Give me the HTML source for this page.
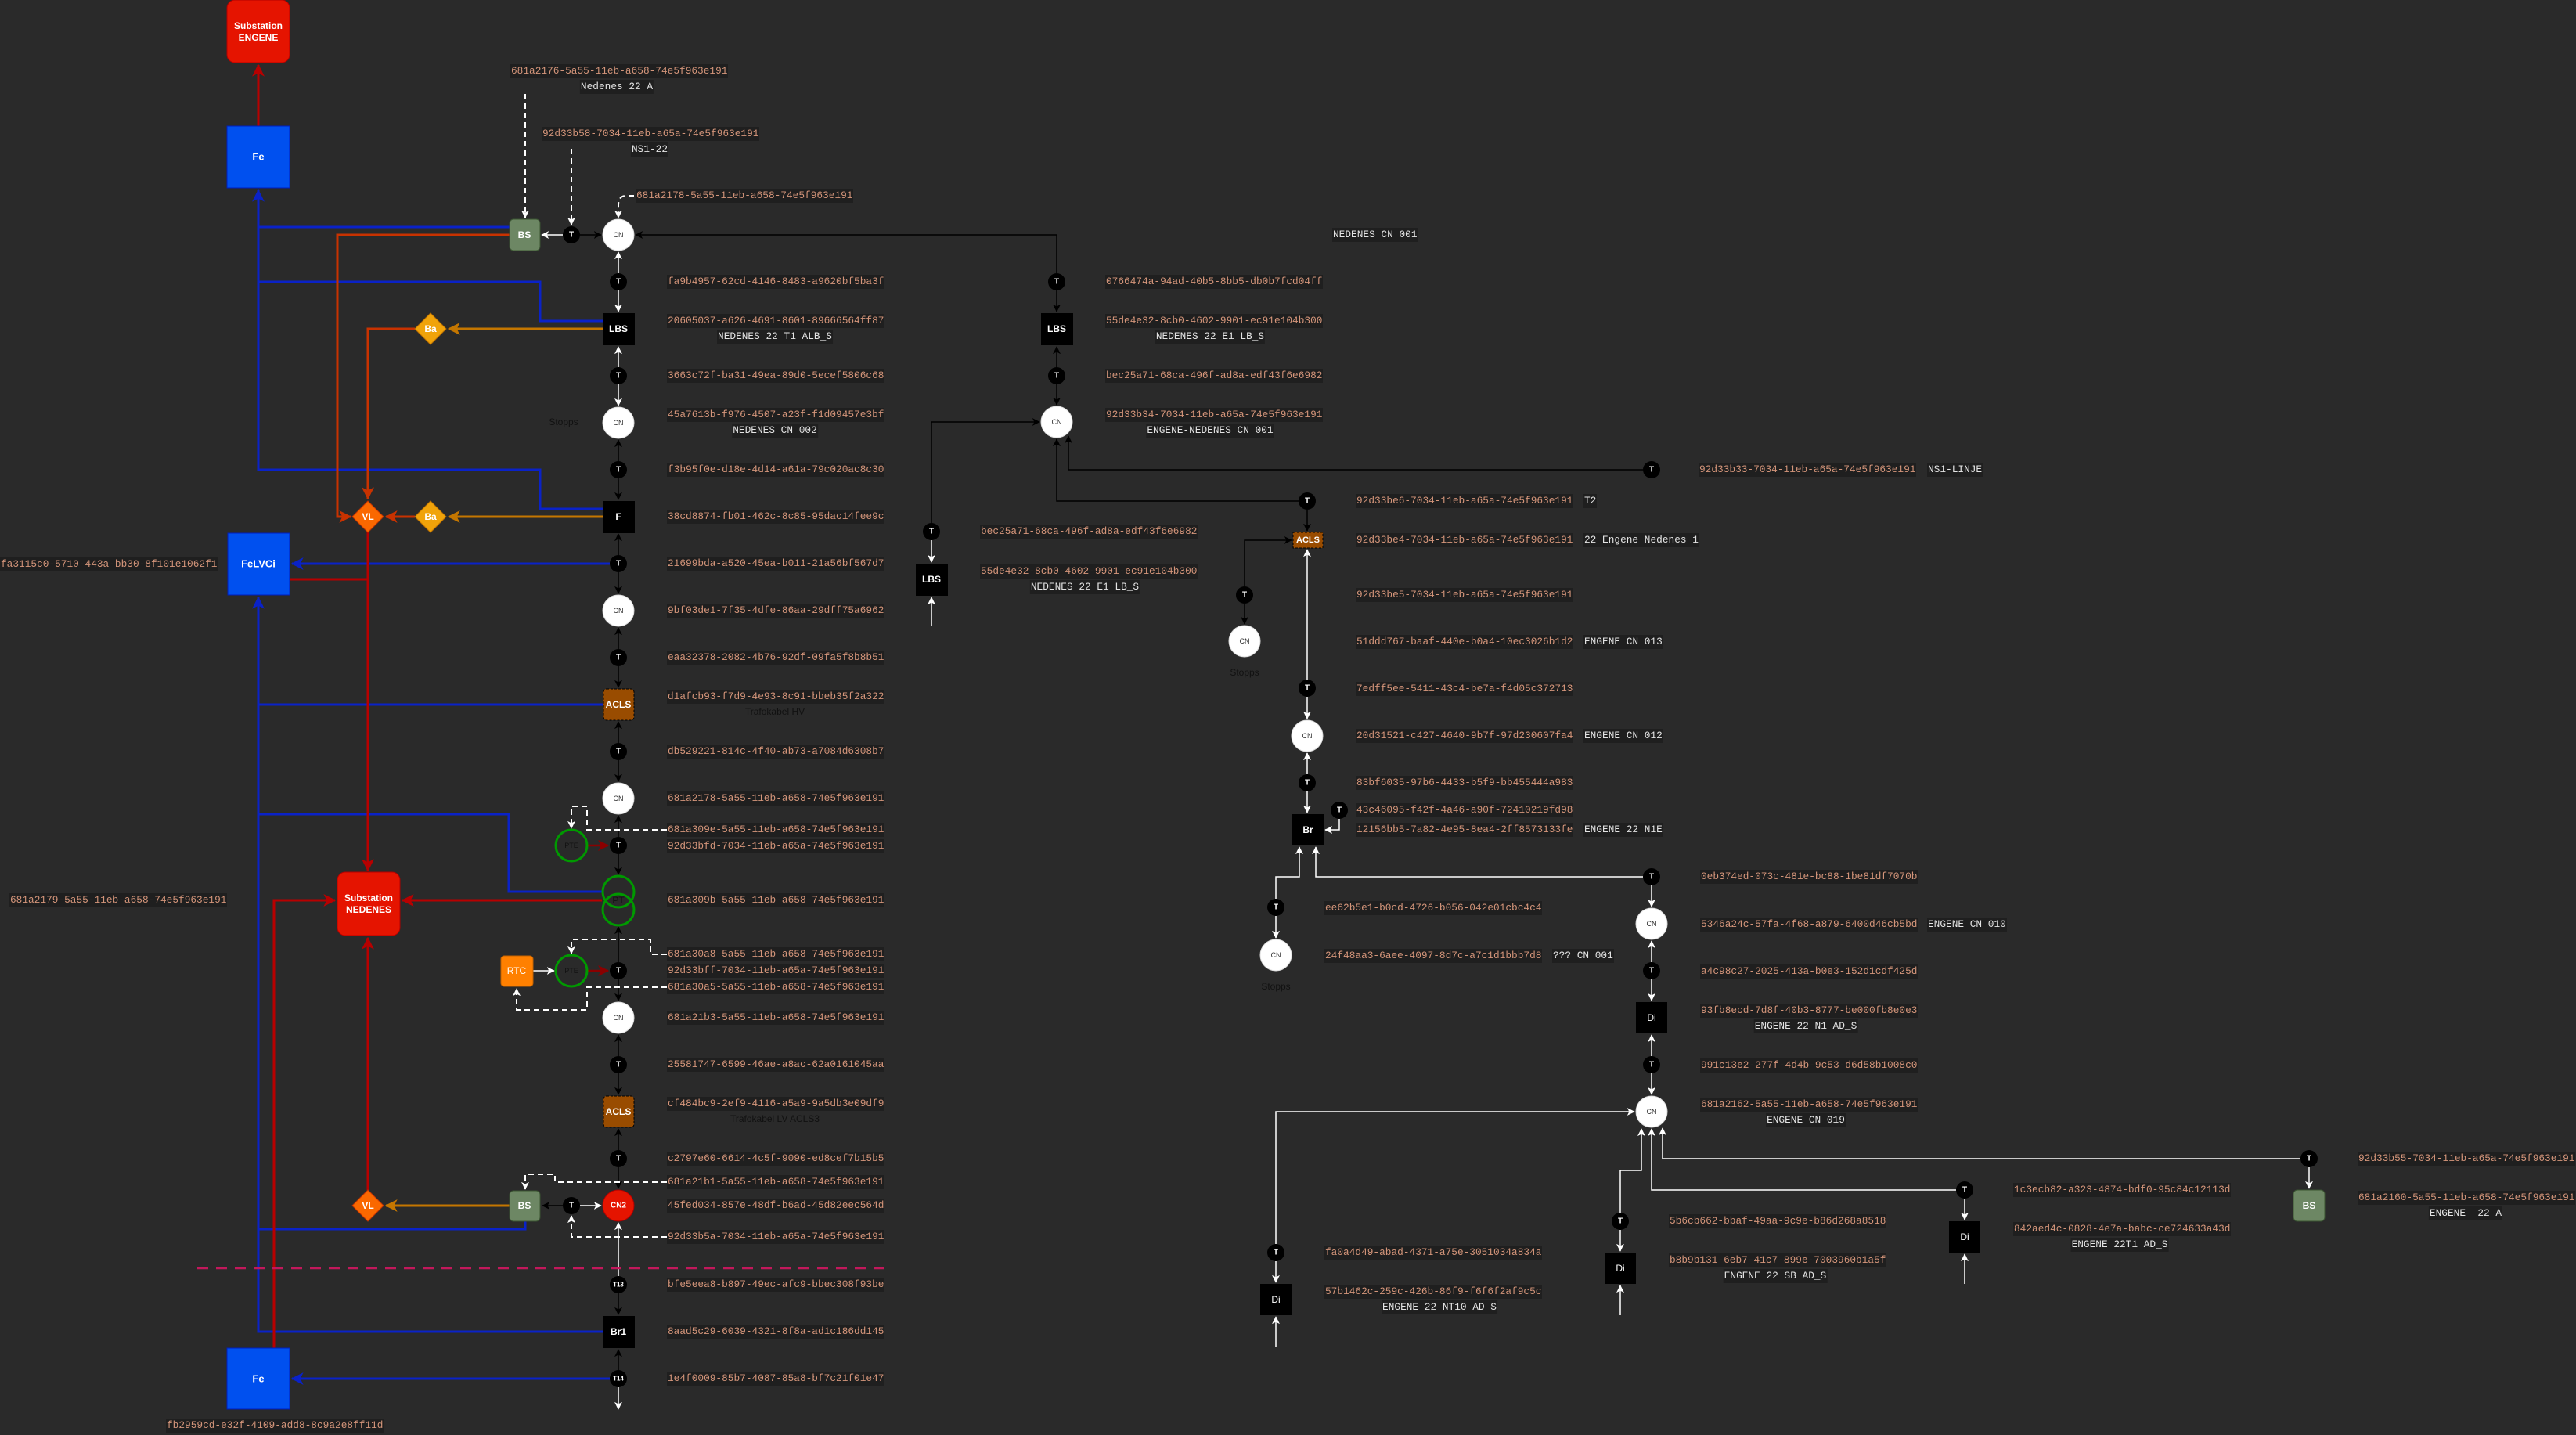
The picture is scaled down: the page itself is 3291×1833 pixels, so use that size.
<!DOCTYPE html>
<html><head><meta charset="utf-8"><style>
html,body{margin:0;padding:0;background:#2a2a2a;}
#w{position:relative;width:3291px;height:1833px;overflow:hidden;background:#2a2a2a;}
svg{position:absolute;left:0;top:0;}
.l{position:absolute;font-family:"Liberation Mono",monospace;font-size:12.8px;line-height:18px;height:18px;color:#d4957a;background:#1f1f1f;white-space:pre;padding:0 1px;}
.n{color:#e4e4e4;}
.c{transform:translateX(-50%);}
.d{position:absolute;font-family:"Liberation Sans",sans-serif;font-size:12px;color:#111;white-space:pre;transform:translateX(-50%);}
text{font-family:"Liberation Sans",sans-serif;text-anchor:middle;dominant-baseline:central;}
</style></head><body><div id="w">
<svg width="3291" height="1833" viewBox="0 0 3291 1833">
<defs>
<marker id="aK" viewBox="0 0 12 12" refX="11" refY="6" markerWidth="10" markerHeight="10" markerUnits="userSpaceOnUse" orient="auto"><path d="M0,0 L12,6 L0,12 L3,6z" fill="#000"/></marker>
<marker id="aW" viewBox="0 0 12 12" refX="11" refY="6" markerWidth="10" markerHeight="10" markerUnits="userSpaceOnUse" orient="auto"><path d="M0,0 L12,6 L0,12 L3,6z" fill="#fff"/></marker>
<marker id="aB" viewBox="0 0 12 12" refX="11" refY="6" markerWidth="16" markerHeight="16" markerUnits="userSpaceOnUse" orient="auto"><path d="M0,0 L12,6 L0,12 L3,6z" fill="#0a22c8"/></marker>
<marker id="aR" viewBox="0 0 12 12" refX="11" refY="6" markerWidth="16" markerHeight="16" markerUnits="userSpaceOnUse" orient="auto"><path d="M0,0 L12,6 L0,12 L3,6z" fill="#b80000"/></marker>
<marker id="aRO" viewBox="0 0 12 12" refX="11" refY="6" markerWidth="16" markerHeight="16" markerUnits="userSpaceOnUse" orient="auto"><path d="M0,0 L12,6 L0,12 L3,6z" fill="#c83200"/></marker>
<marker id="aO" viewBox="0 0 12 12" refX="11" refY="6" markerWidth="16" markerHeight="16" markerUnits="userSpaceOnUse" orient="auto"><path d="M0,0 L12,6 L0,12 L3,6z" fill="#c47600"/></marker>
<marker id="aD" viewBox="0 0 12 12" refX="11" refY="6" markerWidth="14" markerHeight="14" markerUnits="userSpaceOnUse" orient="auto"><path d="M0,0 L12,6 L0,12 L3,6z" fill="#8a0000"/></marker>
</defs>
<g fill="none">
<g stroke="#0a22c8" stroke-width="3">
<path d="M651,290 H330 V243" marker-end="url(#aB)"/>
<path d="M770,410 H690 V360 H330"/>
<path d="M770,650 H690 V600 H330 V290"/>
<path d="M779,720 H373" marker-end="url(#aB)"/>
<path d="M770,1701 H330 V763" marker-end="url(#aB)"/>
<path d="M771,900 H330"/>
<path d="M769,1139 H650 V1040 H330"/>
<path d="M671,1560 V1570 H330"/>
<path d="M779,1761 H373" marker-end="url(#aB)"/>
</g>
<g stroke="#b80000" stroke-width="3">
<path d="M330,161 V83" marker-end="url(#aR)"/>
<path d="M370,740 H470"/>
<path d="M470,680 V1112" marker-end="url(#aR)"/>
<path d="M769,1150 H514" marker-end="url(#aR)"/>
<path d="M350,1722 V1150 H428" marker-end="url(#aR)"/>
<path d="M470,1520 V1198" marker-end="url(#aR)"/>
</g>
<g stroke="#c83200" stroke-width="3">
<path d="M651,300 H431 V660 H448" marker-end="url(#aRO)"/>
<path d="M530,420 H470 V637" marker-end="url(#aRO)"/>
<path d="M530,660 H493" marker-end="url(#aRO)"/>
</g>
<g stroke="#c47600" stroke-width="3">
<path d="M770,420 H573" marker-end="url(#aO)"/>
<path d="M770,660 H573" marker-end="url(#aO)"/>
<path d="M651,1540 H493" marker-end="url(#aO)"/>
</g>
<g stroke="#8a0000" stroke-width="2.5">
<path d="M750,1080 H777" marker-end="url(#aD)"/>
<path d="M750,1240 H777" marker-end="url(#aD)"/>
</g>
<g stroke="#fff" stroke-width="1.5">
<path d="M790,349 V322" marker-end="url(#aW)"/>
<path d="M790,371 V398" marker-end="url(#aW)"/>
<path d="M790,469 V443" marker-end="url(#aW)"/>
<path d="M790,491 V518" marker-end="url(#aW)"/>
<path d="M790,1630 V1562" marker-end="url(#aW)"/>
<path d="M790,1772 V1800" marker-end="url(#aW)"/>
<path d="M719,300 H692" marker-end="url(#aW)"/>
<path d="M741,1540 H768" marker-end="url(#aW)"/>
<path d="M681,1240 H708" marker-end="url(#aW)"/>
</g>
<g stroke="#000" stroke-width="1.5">
<path d="M741,300 H768" marker-end="url(#aK)"/>
<path d="M790,589 V562" marker-end="url(#aK)"/>
<path d="M790,611 V638" marker-end="url(#aK)"/>
<path d="M790,709 V682" marker-end="url(#aK)"/>
<path d="M790,731 V758" marker-end="url(#aK)"/>
<path d="M790,829 V802" marker-end="url(#aK)"/>
<path d="M790,851 V878" marker-end="url(#aK)"/>
<path d="M790,949 V922" marker-end="url(#aK)"/>
<path d="M790,971 V998" marker-end="url(#aK)"/>
<path d="M790,1069 V1042" marker-end="url(#aK)"/>
<path d="M790,1091 V1117" marker-end="url(#aK)"/>
<path d="M790,1229 V1184" marker-end="url(#aK)"/>
<path d="M790,1251 V1278" marker-end="url(#aK)"/>
<path d="M790,1349 V1322" marker-end="url(#aK)"/>
<path d="M790,1371 V1398" marker-end="url(#aK)"/>
<path d="M790,1469 V1442" marker-end="url(#aK)"/>
<path d="M790,1491 V1518" marker-end="url(#aK)"/>
<path d="M790,1652 V1679" marker-end="url(#aK)"/>
<path d="M790,1750 V1724" marker-end="url(#aK)"/>
<path d="M719,1540 H693" marker-end="url(#aK)"/>
<path d="M1350,349 V300 H812" marker-end="url(#aK)"/>
<path d="M1350,371 V398" marker-end="url(#aK)"/>
<path d="M1350,469 V443" marker-end="url(#aK)"/>
<path d="M1350,491 V517" marker-end="url(#aK)"/>
<path d="M1190,668 V539 H1328" marker-end="url(#aK)"/>
<path d="M2099,600 H1365 V557" marker-end="url(#aK)"/>
<path d="M1659,640 H1350 V561" marker-end="url(#aK)"/>
<path d="M1670,651 V678" marker-end="url(#aK)"/>
<path d="M1590,749 V690 H1650" marker-end="url(#aK)"/>
<path d="M1590,771 V797" marker-end="url(#aK)"/>
</g>
<g stroke="#fff" stroke-width="1.5">
<path d="M1190,690 V718" marker-end="url(#aW)"/>
<path d="M1190,800 V763" marker-end="url(#aW)"/>
<path d="M1670,868 V702" marker-end="url(#aW)"/>
<path d="M1670,890 V918" marker-end="url(#aW)"/>
<path d="M1670,989 V962" marker-end="url(#aW)"/>
<path d="M1670,1011 V1038" marker-end="url(#aW)"/>
<path d="M1711,1046 V1060 H1693" marker-end="url(#aW)"/>
<path d="M2099,1120 H1681 V1082" marker-end="url(#aW)"/>
<path d="M1630,1148 V1120 H1660 V1082" marker-end="url(#aW)"/>
<path d="M1630,1170 V1198" marker-end="url(#aW)"/>
<path d="M2110,1131 V1158" marker-end="url(#aW)"/>
<path d="M2110,1229 V1202" marker-end="url(#aW)"/>
<path d="M2110,1251 V1278" marker-end="url(#aW)"/>
<path d="M2110,1349 V1322" marker-end="url(#aW)"/>
<path d="M2110,1371 V1398" marker-end="url(#aW)"/>
<path d="M1630,1589 V1420 H2088" marker-end="url(#aW)"/>
<path d="M1630,1611 V1638" marker-end="url(#aW)"/>
<path d="M1630,1720 V1682" marker-end="url(#aW)"/>
<path d="M2070,1549 V1495 H2097 V1442" marker-end="url(#aW)"/>
<path d="M2070,1571 V1598" marker-end="url(#aW)"/>
<path d="M2070,1680 V1642" marker-end="url(#aW)"/>
<path d="M2499,1520 H2110 V1442" marker-end="url(#aW)"/>
<path d="M2510,1531 V1558" marker-end="url(#aW)"/>
<path d="M2510,1640 V1602" marker-end="url(#aW)"/>
<path d="M2939,1480 H2124 V1441" marker-end="url(#aW)"/>
<path d="M2950,1491 V1518" marker-end="url(#aW)"/>
</g>
<g stroke="#fff" stroke-width="2" stroke-dasharray="7,5">
<path d="M671,120 V278" marker-end="url(#aW)"/>
<path d="M730,190 V287" marker-end="url(#aW)"/>
<path d="M810,250 H800 Q790,250 790,262 V278" marker-end="url(#aW)"/>
<path d="M852,1060 H750 V1030 H730 V1058" marker-end="url(#aW)"/>
<path d="M852,1219 H831 V1200 H730 V1218" marker-end="url(#aW)"/>
<path d="M852,1261 H750 V1290 H660 V1263" marker-end="url(#aW)"/>
<path d="M852,1510 H709 V1500 H671 V1519" marker-end="url(#aW)"/>
<path d="M852,1580 H730 V1553" marker-end="url(#aW)"/>
</g>
<path d="M252,1620 H1133" stroke="#c2185b" stroke-width="2.5" stroke-dasharray="14,10"/>
</g>
<rect x="290" y="0" width="80" height="80" rx="10" fill="#e51400" stroke="#b20000"/>
<text x="330" y="33" fill="#fff" font-size="12" font-weight="bold">Substation</text>
<text x="330" y="48" fill="#fff" font-size="12" font-weight="bold">ENGENE</text>
<rect x="290" y="161" width="80" height="79" fill="#0050ef" stroke="#001dbc"/>
<text x="330" y="200" fill="#fff" font-size="13" font-weight="bold">Fe</text>
<rect x="291" y="681" width="79" height="79" fill="#0050ef" stroke="#001dbc"/>
<text x="330" y="720" fill="#fff" font-size="13" font-weight="bold">FeLVCi</text>
<rect x="290" y="1722" width="80" height="78" fill="#0050ef" stroke="#001dbc"/>
<text x="330" y="1761" fill="#fff" font-size="13" font-weight="bold">Fe</text>
<rect x="431" y="1114" width="80" height="81" rx="10" fill="#e51400" stroke="#b20000"/>
<text x="471" y="1147" fill="#fff" font-size="12" font-weight="bold">Substation</text>
<text x="471" y="1162" fill="#fff" font-size="12" font-weight="bold">NEDENES</text>
<g font-size="12" font-weight="bold" fill="#fff">
<path d="M470,640 L490,660 L470,680 L450,660z" fill="#fa6800" stroke="#c73500"/><text x="470" y="660" fill="#fff">VL</text>
<path d="M470,1520 L490,1540 L470,1560 L450,1540z" fill="#fa6800" stroke="#c73500"/><text x="470" y="1540" fill="#fff">VL</text>
<path d="M550,400 L570,420 L550,440 L530,420z" fill="#f0a30a" stroke="#bd7000"/><text x="550" y="420" fill="#fff">Ba</text>
<path d="M550,640 L570,660 L550,680 L530,660z" fill="#f0a30a" stroke="#bd7000"/><text x="550" y="660" fill="#fff">Ba</text>
<rect x="651" y="280" width="39" height="40" rx="5" fill="#6d8764" stroke="#3a5431"/><text x="670" y="300" fill="#fff">BS</text>
<rect x="651" y="1521" width="39" height="39" rx="5" fill="#6d8764" stroke="#3a5431"/><text x="670" y="1540" fill="#fff">BS</text>
<rect x="2930" y="1520" width="40" height="40" rx="5" fill="#6d8764" stroke="#3a5431"/><text x="2950" y="1540" fill="#fff">BS</text>
<rect x="640" y="1221" width="41" height="39" rx="4" fill="#ff8000" stroke="#c46200"/><text x="660" y="1240" fill="#fff" font-weight="normal">RTC</text>
<rect x="770" y="400" width="41" height="41" fill="#000"/><text x="790" y="420">LBS</text>
<rect x="770" y="640" width="41" height="41" fill="#000"/><text x="790" y="660">F</text>
<rect x="771" y="880" width="39" height="40" rx="4" fill="#994c00" stroke="#000" stroke-dasharray="3,2"/><text x="790" y="900">ACLS</text>
<rect x="771" y="1400" width="39" height="40" rx="4" fill="#994c00" stroke="#000" stroke-dasharray="3,2"/><text x="790" y="1420">ACLS</text>
<rect x="770" y="1681" width="41" height="41" fill="#000"/><text x="790" y="1701">Br1</text>
<rect x="1330" y="400" width="41" height="41" fill="#000"/><text x="1350" y="420">LBS</text>
<rect x="1170" y="720" width="41" height="41" fill="#000"/><text x="1190" y="740">LBS</text>
<rect x="1652" y="680" width="38" height="20" fill="#994c00" stroke="#000" stroke-dasharray="3,2"/><text x="1671" y="690" font-size="11">ACLS</text>
<rect x="1651" y="1040" width="40" height="40" fill="#000"/><text x="1671" y="1060">Br</text>
<rect x="2090" y="1280" width="40" height="40" fill="#000"/><text x="2110" y="1300" font-weight="normal">Di</text>
<rect x="1610" y="1640" width="40" height="40" fill="#000"/><text x="1630" y="1660" font-weight="normal">Di</text>
<rect x="2050" y="1600" width="40" height="40" fill="#000"/><text x="2070" y="1620" font-weight="normal">Di</text>
<rect x="2490" y="1560" width="40" height="40" fill="#000"/><text x="2510" y="1580" font-weight="normal">Di</text>
</g>
<g fill="#fff" stroke="#ddd">
<circle cx="790" cy="300" r="20"/><circle cx="790" cy="540" r="20"/><circle cx="790" cy="780" r="20"/><circle cx="790" cy="1020" r="20"/><circle cx="790" cy="1300" r="20"/>
<circle cx="1350" cy="539" r="20"/><circle cx="1590" cy="819" r="20"/><circle cx="1670" cy="940" r="20"/><circle cx="1630" cy="1220" r="20"/><circle cx="2110" cy="1180" r="20"/><circle cx="2110" cy="1420" r="20"/>
</g>
<g font-size="9" fill="#333">
<text x="790" y="300">CN</text><text x="790" y="540">CN</text><text x="790" y="780">CN</text><text x="790" y="1020">CN</text><text x="790" y="1300">CN</text>
<text x="1350" y="539">CN</text><text x="1590" y="819">CN</text><text x="1670" y="940">CN</text><text x="1630" y="1220">CN</text><text x="2110" y="1180">CN</text><text x="2110" y="1420">CN</text>
</g>
<circle cx="790" cy="1540" r="20" fill="#e51400" stroke="#b20000"/><text x="790" y="1540" fill="#fff" font-size="10" font-weight="bold">CN2</text>
<g fill="none" stroke="#009900" stroke-width="3">
<circle cx="790" cy="1139" r="20"/><circle cx="790" cy="1162" r="20"/>
<circle cx="730" cy="1080" r="20"/><circle cx="730" cy="1240" r="20"/>
</g>
<text x="790" y="1150" font-size="12" fill="#111">PT</text>
<text x="730" y="1080" font-size="9" fill="#111">PTE</text>
<text x="730" y="1240" font-size="9" fill="#111">PTE</text>
<g fill="#000">
<circle cx="730" cy="300" r="11"/><circle cx="790" cy="360" r="11"/><circle cx="790" cy="480" r="11"/><circle cx="790" cy="600" r="11"/><circle cx="790" cy="720" r="11"/><circle cx="790" cy="840" r="11"/><circle cx="790" cy="960" r="11"/><circle cx="790" cy="1080" r="11"/><circle cx="790" cy="1240" r="11"/><circle cx="790" cy="1360" r="11"/><circle cx="790" cy="1480" r="11"/><circle cx="730" cy="1540" r="11"/><circle cx="790" cy="1641" r="11"/><circle cx="790" cy="1761" r="11"/>
<circle cx="1350" cy="360" r="11"/><circle cx="1350" cy="480" r="11"/><circle cx="1190" cy="679" r="11"/><circle cx="2110" cy="600" r="11"/><circle cx="1670" cy="640" r="11"/><circle cx="1590" cy="760" r="11"/><circle cx="1670" cy="879" r="11"/><circle cx="1670" cy="1000" r="11"/><circle cx="1711" cy="1035" r="11"/>
<circle cx="2110" cy="1120" r="11"/><circle cx="1630" cy="1159" r="11"/><circle cx="2110" cy="1240" r="11"/><circle cx="2110" cy="1360" r="11"/><circle cx="1630" cy="1600" r="11"/><circle cx="2070" cy="1560" r="11"/><circle cx="2510" cy="1520" r="11"/><circle cx="2950" cy="1480" r="11"/>
</g>
<g font-size="10" font-weight="bold" fill="#fff">
<text x="730" y="300">T</text><text x="790" y="360">T</text><text x="790" y="480">T</text><text x="790" y="600">T</text><text x="790" y="720">T</text><text x="790" y="840">T</text><text x="790" y="960">T</text><text x="790" y="1080">T</text><text x="790" y="1240">T</text><text x="790" y="1360">T</text><text x="790" y="1480">T</text><text x="730" y="1540">T</text><text x="790" y="1641" font-size="8">T13</text><text x="790" y="1761" font-size="8">T14</text>
<text x="1350" y="360">T</text><text x="1350" y="480">T</text><text x="1190" y="679">T</text><text x="2110" y="600">T</text><text x="1670" y="640">T</text><text x="1590" y="760">T</text><text x="1670" y="879">T</text><text x="1670" y="1000">T</text><text x="1711" y="1035">T</text>
<text x="2110" y="1120">T</text><text x="1630" y="1159">T</text><text x="2110" y="1240">T</text><text x="2110" y="1360">T</text><text x="1630" y="1600">T</text><text x="2070" y="1560">T</text><text x="2510" y="1520">T</text><text x="2950" y="1480">T</text>
</g>
</svg>
<div class="l" style="left:652px;top:82px">681a2176-5a55-11eb-a658-74e5f963e191</div>
<div class="l n c" style="left:788px;top:102px">Nedenes 22 A</div>
<div class="l" style="left:692px;top:162px">92d33b58-7034-11eb-a65a-74e5f963e191</div>
<div class="l n c" style="left:830px;top:182px">NS1-22</div>
<div class="l" style="left:812px;top:241px">681a2178-5a55-11eb-a658-74e5f963e191</div>
<div class="l" style="left:852px;top:351px">fa9b4957-62cd-4146-8483-a9620bf5ba3f</div>
<div class="l" style="left:852px;top:401px">20605037-a626-4691-8601-89666564ff87</div>
<div class="l n c" style="left:990px;top:421px">NEDENES 22 T1 ALB_S</div>
<div class="l" style="left:852px;top:471px">3663c72f-ba31-49ea-89d0-5ecef5806c68</div>
<div class="l" style="left:852px;top:521px">45a7613b-f976-4507-a23f-f1d09457e3bf</div>
<div class="l n c" style="left:990px;top:541px">NEDENES CN 002</div>
<div class="d" style="left:720px;top:532px">Stopps</div>
<div class="l" style="left:852px;top:591px">f3b95f0e-d18e-4d14-a61a-79c020ac8c30</div>
<div class="l" style="left:852px;top:651px">38cd8874-fb01-462c-8c85-95dac14fee9c</div>
<div class="l" style="left:852px;top:711px">21699bda-a520-45ea-b011-21a56bf567d7</div>
<div class="l" style="left:0px;top:712px">fa3115c0-5710-443a-bb30-8f101e1062f1</div>
<div class="l" style="left:852px;top:771px">9bf03de1-7f35-4dfe-86aa-29dff75a6962</div>
<div class="l" style="left:852px;top:831px">eaa32378-2082-4b76-92df-09fa5f8b8b51</div>
<div class="l" style="left:852px;top:881px">d1afcb93-f7d9-4e93-8c91-bbeb35f2a322</div>
<div class="d" style="left:990px;top:902px">Trafokabel HV</div>
<div class="l" style="left:852px;top:951px">db529221-814c-4f40-ab73-a7084d6308b7</div>
<div class="l" style="left:852px;top:1011px">681a2178-5a55-11eb-a658-74e5f963e191</div>
<div class="l" style="left:852px;top:1051px">681a309e-5a55-11eb-a658-74e5f963e191</div>
<div class="l" style="left:852px;top:1072px">92d33bfd-7034-11eb-a65a-74e5f963e191</div>
<div class="l" style="left:852px;top:1141px">681a309b-5a55-11eb-a658-74e5f963e191</div>
<div class="l" style="left:12px;top:1141px">681a2179-5a55-11eb-a658-74e5f963e191</div>
<div class="l" style="left:852px;top:1210px">681a30a8-5a55-11eb-a658-74e5f963e191</div>
<div class="l" style="left:852px;top:1231px">92d33bff-7034-11eb-a65a-74e5f963e191</div>
<div class="l" style="left:852px;top:1252px">681a30a5-5a55-11eb-a658-74e5f963e191</div>
<div class="l" style="left:852px;top:1291px">681a21b3-5a55-11eb-a658-74e5f963e191</div>
<div class="l" style="left:852px;top:1351px">25581747-6599-46ae-a8ac-62a0161045aa</div>
<div class="l" style="left:852px;top:1401px">cf484bc9-2ef9-4116-a5a9-9a5db3e09df9</div>
<div class="d" style="left:990px;top:1422px">Trafokabel LV ACLS3</div>
<div class="l" style="left:852px;top:1471px">c2797e60-6614-4c5f-9090-ed8cef7b15b5</div>
<div class="l" style="left:852px;top:1501px">681a21b1-5a55-11eb-a658-74e5f963e191</div>
<div class="l" style="left:852px;top:1531px">45fed034-857e-48df-b6ad-45d82eec564d</div>
<div class="l" style="left:852px;top:1571px">92d33b5a-7034-11eb-a65a-74e5f963e191</div>
<div class="l" style="left:852px;top:1632px">bfe5eea8-b897-49ec-afc9-bbec308f93be</div>
<div class="l" style="left:852px;top:1692px">8aad5c29-6039-4321-8f8a-ad1c186dd145</div>
<div class="l" style="left:852px;top:1752px">1e4f0009-85b7-4087-85a8-bf7c21f01e47</div>
<div class="l" style="left:212px;top:1812px">fb2959cd-e32f-4109-add8-8c9a2e8ff11d</div>
<div class="l n" style="left:1702px;top:291px">NEDENES CN 001</div>
<div class="l" style="left:1412px;top:351px">0766474a-94ad-40b5-8bb5-db0b7fcd04ff</div>
<div class="l" style="left:1412px;top:401px">55de4e32-8cb0-4602-9901-ec91e104b300</div>
<div class="l n c" style="left:1546px;top:421px">NEDENES 22 E1 LB_S</div>
<div class="l" style="left:1412px;top:471px">bec25a71-68ca-496f-ad8a-edf43f6e6982</div>
<div class="l" style="left:1412px;top:521px">92d33b34-7034-11eb-a65a-74e5f963e191</div>
<div class="l n c" style="left:1546px;top:541px">ENGENE-NEDENES CN 001</div>
<div class="l" style="left:2170px;top:591px">92d33b33-7034-11eb-a65a-74e5f963e191</div>
<div class="l n" style="left:2462px;top:591px">NS1-LINJE</div>
<div class="l" style="left:1252px;top:670px">bec25a71-68ca-496f-ad8a-edf43f6e6982</div>
<div class="l" style="left:1252px;top:721px">55de4e32-8cb0-4602-9901-ec91e104b300</div>
<div class="l n c" style="left:1386px;top:741px">NEDENES 22 E1 LB_S</div>
<div class="l" style="left:1732px;top:631px">92d33be6-7034-11eb-a65a-74e5f963e191</div>
<div class="l n" style="left:2023px;top:631px">T2</div>
<div class="l" style="left:1732px;top:681px">92d33be4-7034-11eb-a65a-74e5f963e191</div>
<div class="l n" style="left:2023px;top:681px">22 Engene Nedenes 1</div>
<div class="l" style="left:1732px;top:751px">92d33be5-7034-11eb-a65a-74e5f963e191</div>
<div class="l" style="left:1732px;top:811px">51ddd767-baaf-440e-b0a4-10ec3026b1d2</div>
<div class="l n" style="left:2023px;top:811px">ENGENE CN 013</div>
<div class="d" style="left:1590px;top:852px">Stopps</div>
<div class="l" style="left:1732px;top:871px">7edff5ee-5411-43c4-be7a-f4d05c372713</div>
<div class="l" style="left:1732px;top:931px">20d31521-c427-4640-9b7f-97d230607fa4</div>
<div class="l n" style="left:2023px;top:931px">ENGENE CN 012</div>
<div class="l" style="left:1732px;top:991px">83bf6035-97b6-4433-b5f9-bb455444a983</div>
<div class="l" style="left:1732px;top:1026px">43c46095-f42f-4a46-a90f-72410219fd98</div>
<div class="l" style="left:1732px;top:1051px">12156bb5-7a82-4e95-8ea4-2ff8573133fe</div>
<div class="l n" style="left:2023px;top:1051px">ENGENE 22 N1E</div>
<div class="l" style="left:2172px;top:1111px">0eb374ed-073c-481e-bc88-1be81df7070b</div>
<div class="l" style="left:1692px;top:1151px">ee62b5e1-b0cd-4726-b056-042e01cbc4c4</div>
<div class="l" style="left:2172px;top:1172px">5346a24c-57fa-4f68-a879-6400d46cb5bd</div>
<div class="l n" style="left:2462px;top:1172px">ENGENE CN 010</div>
<div class="l" style="left:1692px;top:1212px">24f48aa3-6aee-4097-8d7c-a7c1d1bbb7d8</div>
<div class="l n" style="left:1983px;top:1212px">??? CN 001</div>
<div class="d" style="left:1630px;top:1253px">Stopps</div>
<div class="l" style="left:2172px;top:1232px">a4c98c27-2025-413a-b0e3-152d1cdf425d</div>
<div class="l" style="left:2172px;top:1282px">93fb8ecd-7d8f-40b3-8777-be000fb8e0e3</div>
<div class="l n c" style="left:2307px;top:1302px">ENGENE 22 N1 AD_S</div>
<div class="l" style="left:2172px;top:1352px">991c13e2-277f-4d4b-9c53-d6d58b1008c0</div>
<div class="l" style="left:2172px;top:1402px">681a2162-5a55-11eb-a658-74e5f963e191</div>
<div class="l n c" style="left:2307px;top:1422px">ENGENE CN 019</div>
<div class="l" style="left:3012px;top:1471px">92d33b55-7034-11eb-a65a-74e5f963e191</div>
<div class="l" style="left:2572px;top:1511px">1c3ecb82-a323-4874-bdf0-95c84c12113d</div>
<div class="l" style="left:3012px;top:1521px">681a2160-5a55-11eb-a658-74e5f963e191</div>
<div class="l n c" style="left:3150px;top:1541px">ENGENE  22 A</div>
<div class="l" style="left:2132px;top:1551px">5b6cb662-bbaf-49aa-9c9e-b86d268a8518</div>
<div class="l" style="left:2572px;top:1561px">842aed4c-0828-4e7a-babc-ce724633a43d</div>
<div class="l n c" style="left:2708px;top:1581px">ENGENE 22T1 AD_S</div>
<div class="l" style="left:1692px;top:1591px">fa0a4d49-abad-4371-a75e-3051034a834a</div>
<div class="l" style="left:2132px;top:1601px">b8b9b131-6eb7-41c7-899e-7003960b1a5f</div>
<div class="l n c" style="left:2268px;top:1621px">ENGENE 22 SB AD_S</div>
<div class="l" style="left:1692px;top:1641px">57b1462c-259c-426b-86f9-f6f6f2af9c5c</div>
<div class="l n c" style="left:1839px;top:1661px">ENGENE 22 NT10 AD_S</div>
</div></body></html>
